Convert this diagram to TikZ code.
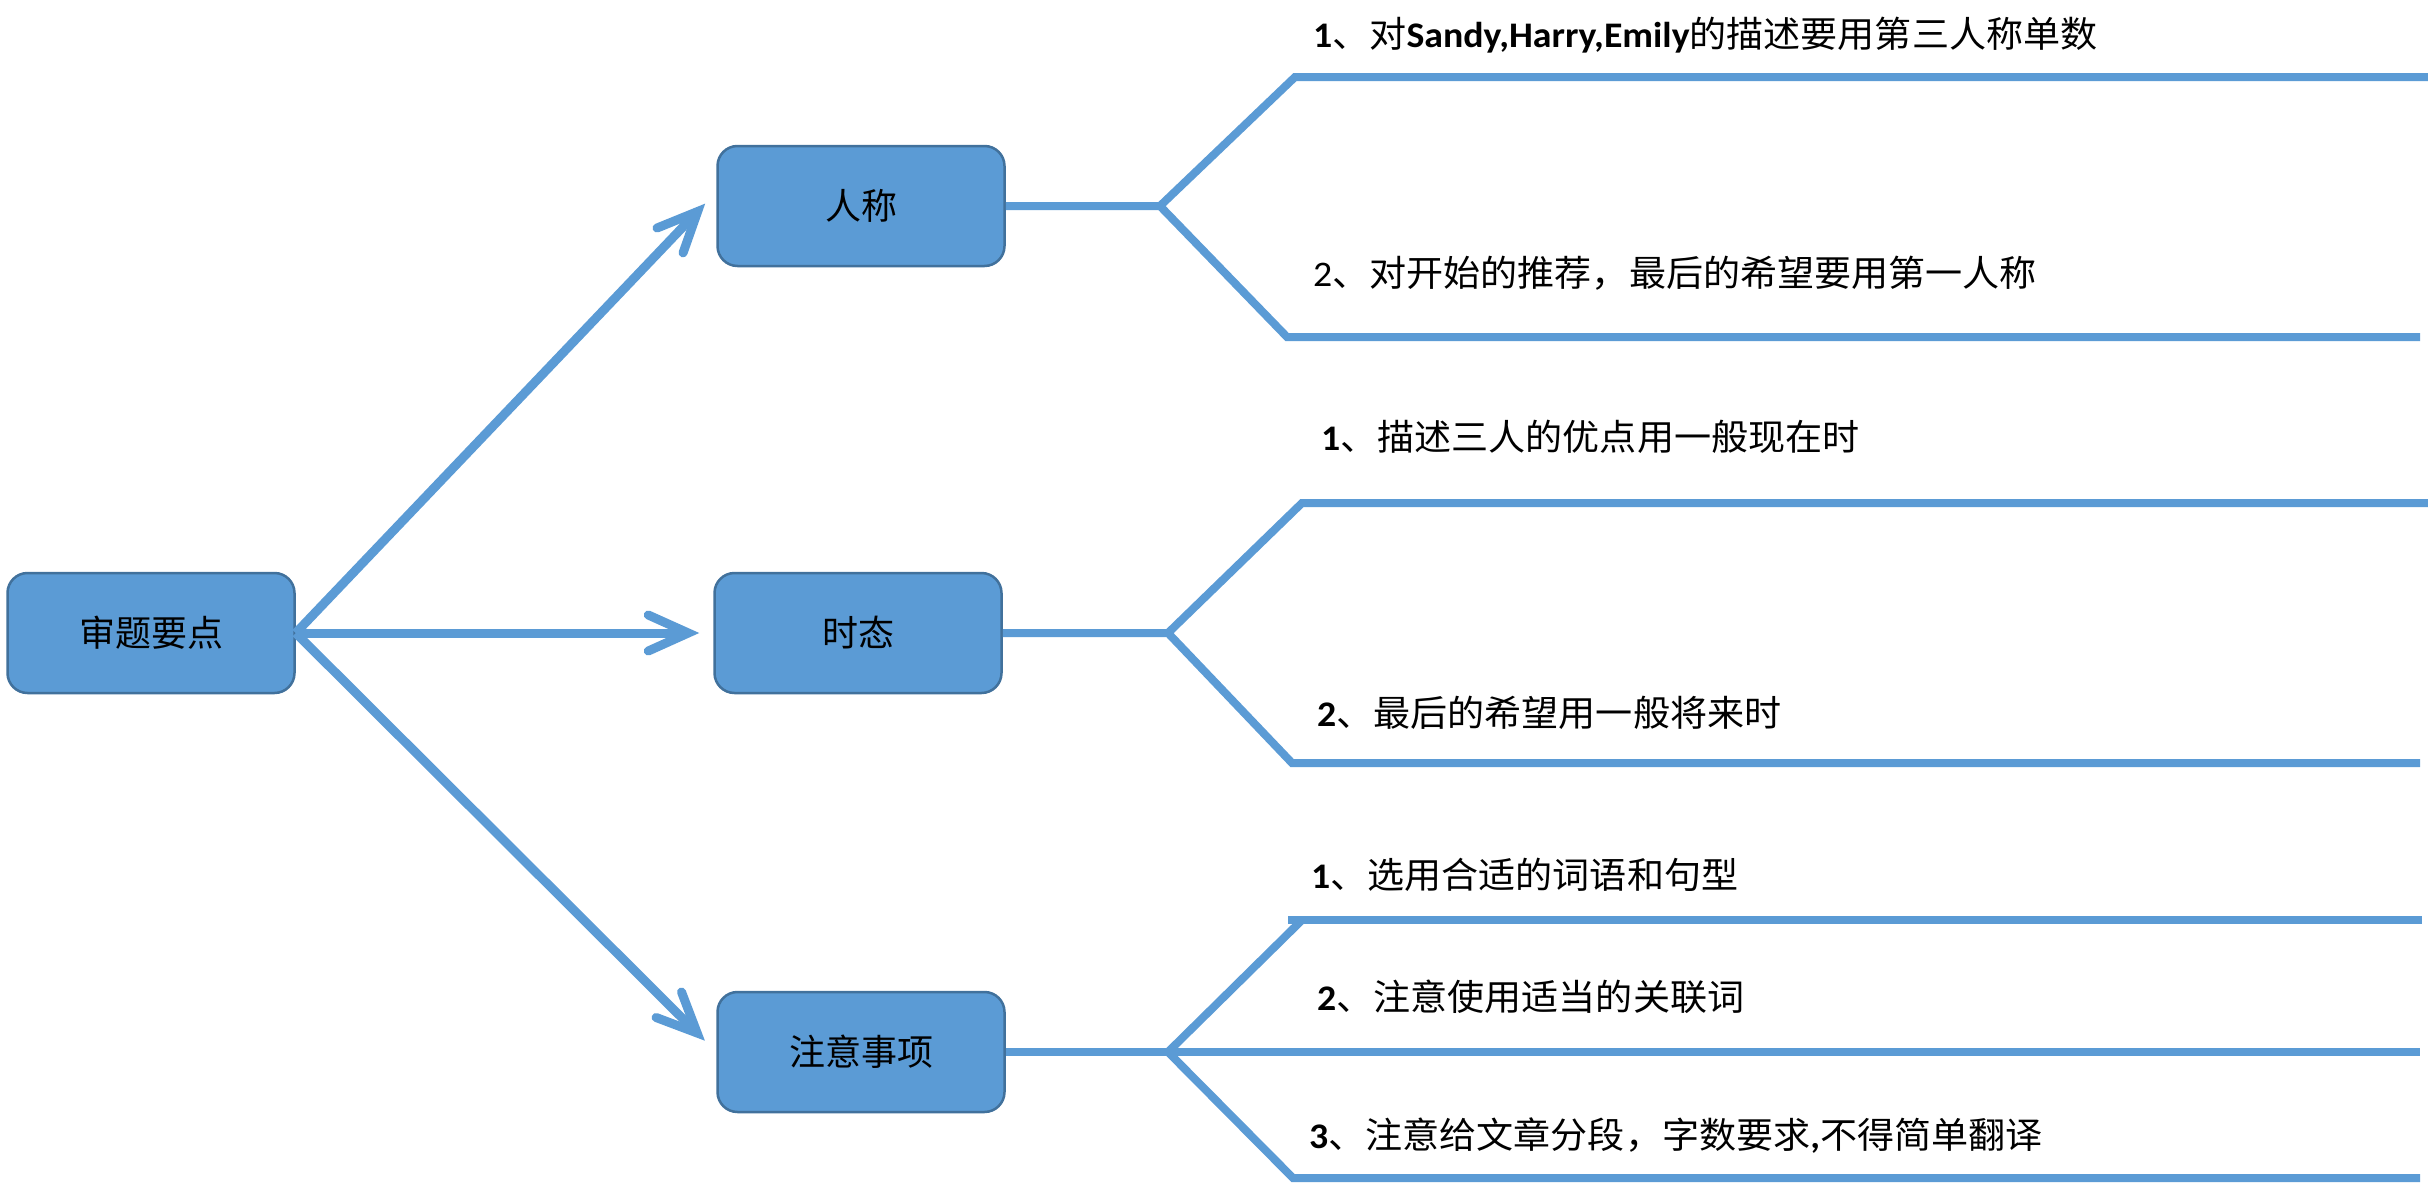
\documentclass[tikz,border=0pt]{standalone}
\usepackage{fontspec}
\setmainfont{Carlito}
\newfontfamily\cjkbr{Noto Sans CJK SC}[FakeStretch=1.03]
\newfontfamily\cjkbox{Noto Sans CJK SC}
\newfontfamily\latbr{Carlito}[FakeStretch=1.05]
\usetikzlibrary{arrows.meta}
\definecolor{lineblue}{HTML}{5B9BD5}
\definecolor{boxedge}{HTML}{41719C}
\newcommand{\cb}[1]{{\cjkbr #1}}
\newcommand{\lbb}[1]{{\latbr\bfseries #1}}
\newcommand{\lrr}[1]{{\latbr #1}}
\begin{document}
\begin{tikzpicture}[x=1pt,y=-1pt,
  box/.style={draw=boxedge, line width=2.5pt, fill=lineblue, rounded corners=20pt,
    minimum width=287pt, minimum height=120pt, inner sep=0pt,
    font=\cjkbox\fontsize{36}{40}\selectfont},
  arr/.style={draw=lineblue, line width=9pt,
    -{Straight Barb[length=40pt,width=36pt,line cap=round,line join=miter]}},
  br/.style={draw=lineblue, line width=8pt},
  lbl/.style={anchor=base west, inner sep=0pt, font=\fontsize{36}{40}\selectfont}]
\useasboundingbox[fill=white] (0,0) rectangle (2428,1183);

% boxes
\node[box] (root) at (151,633) {审题要点};
\node[box] (renc) at (861,206) {人称};
\node[box] (shit) at (858,633) {时态};
\node[box] (zysx) at (861,1052) {注意事项};

% arrows
\draw[arr, shorten >=16pt] (root.east) -- ([yshift=14pt]renc.west);
\draw[arr, shorten >=14pt] (root.east) -- (shit.west);
\draw[arr, shorten >=16pt] (root.east) -- (zysx.west);

% branch coordinates
\coordinate (j1) at (1160,206);
\coordinate (u1) at (1295,77);
\coordinate (ue1) at (2428,77);
\coordinate (d1) at (1287,337);
\coordinate (de1) at (2420,337);

\coordinate (j2) at (1168,633);
\coordinate (u2) at (1302,503);
\coordinate (ue2) at (2428,503);
\coordinate (d2) at (1292,763);
\coordinate (de2) at (2420,763);

\coordinate (j3) at (1168,1052);
\coordinate (u3) at (1302,920);
\coordinate (us3) at (1288,920);
\coordinate (ue3) at (2422,920);
\coordinate (m3) at (2420,1052);
\coordinate (d3) at (1293,1178);
\coordinate (de3) at (2420,1178);

% branches
\draw[br] (renc.east) -- (j1) -- (u1) -- (ue1);
\draw[br] (j1) -- (d1) -- (de1);
\draw[br] (shit.east) -- (j2) -- (u2) -- (ue2);
\draw[br] (j2) -- (d2) -- (de2);
\draw[br] (zysx.east) -- (j3) -- (m3);
\draw[br] (j3) -- (u3);
\draw[br] (us3) -- (ue3);
\draw[br] (j3) -- (d3) -- (de3);

% labels
\node[lbl] (a1) at (1313,47) {\lbb{1}\cb{、对}\lbb{Sandy,Harry,Emily}\cb{的描述要用第三人称单数}};
\node[lbl] (a2) at (1313,286) {\lrr{2}\cb{、对开始的推荐，最后的希望要用第一人称}};
\node[lbl] (b1) at (1321,450) {\lbb{1}\cb{、描述三人的优点用一般现在时}};
\node[lbl] (b2) at (1317,726) {\lbb{2}\cb{、最后的希望用一般将来时}};
\node[lbl] (c1) at (1311,888) {\lbb{1}\cb{、选用合适的词语和句型}};
\node[lbl] (c2) at (1317,1010) {\lbb{2}\cb{、注意使用适当的关联词}};
\node[lbl] (c3) at (1309,1148) {\lbb{3}\cb{、注意给文章分段，字数要求}\lbb{,}\cb{不得简单翻译}};
\end{tikzpicture}
\end{document}
